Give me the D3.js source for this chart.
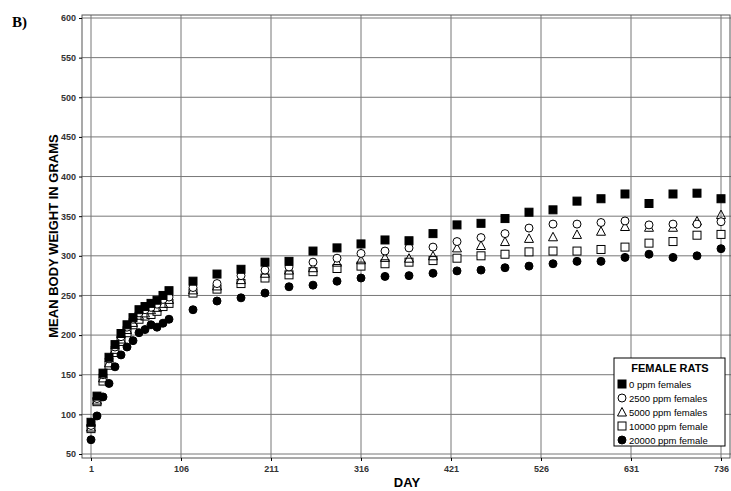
<!DOCTYPE html>
<html><head><meta charset="utf-8">
<script src="https://cdn.jsdelivr.net/npm/d3@7"></script>
<style>body{margin:0;background:#fff}</style></head>
<body><svg id="c" width="731" height="491"></svg>
<script>
const earlyDays=[1,8,15,22,29,36,43,50,57,64,71,78,85,92];
const lateDays=[120,148,176,204,232,260,288,316,344,372,400,428,456,484,512,540,568,596,624,652,680,708,736];
const days=earlyDays.concat(lateDays);
const s0=[90,123,152,172,188,202,213,222,232,236,240,244,250,256, 268,277,283,292,293,306,310,315,320,319,328,339,341,347,355,358,369,372,378,366,378,379,372];
const s2500=[86,120,150,170,185,198,210,220,228,232,235,239,245,248, 260,265,275,282,286,292,297,303,306,310,311,318,323,328,335,340,340,342,344,339,340,340,343];
const s5000=[84,118,146,165,182,195,207,216,225,228,232,235,240,245, 257,262,270,278,282,285,292,295,298,297,300,310,313,318,322,324,327,331,337,336,336,344,352];
const s10000=[82,116,142,162,178,192,203,213,220,224,226,230,236,240, 253,258,265,272,276,280,284,287,290,292,294,297,300,302,305,306,306,308,311,316,318,326,327];
const s20000=[68,98,122,139,160,175,185,193,203,207,213,210,215,220, 232,243,247,253,261,263,268,272,274,275,278,281,282,285,287,290,293,293,298,302,298,300,309];
const xTicks=[1,106,211,316,421,526,631,736];
const yTicks=d3.range(50,601,50);
const seriesNames=["0 ppm females","2500 ppm females","5000 ppm females","10000 ppm female","20000 ppm female"];
const series=[s0,s2500,s5000,s10000,s20000];
const shapes=["sq-f","ci-o","tr-o","sq-o","ci-f"];

const svg=d3.select("#c");
const L=82,R=731,T=15,B=458;
const x=d3.scaleLinear().domain([1,736]).range([91,721]);
const x0=x.invert(L), x1=x.invert(R);
x.domain([x0,x1]).range([L,R]);
const y=d3.scaleLinear().domain([50,600]).range([454,18]);
const fnt="Arial, Liberation Sans, sans-serif";
svg.append("g").selectAll("line").data(yTicks).join("line")
 .attr("x1",L).attr("x2",R).attr("y1",d=>y(d)).attr("y2",d=>y(d)).attr("stroke","#777").attr("stroke-width",1);
svg.append("g").selectAll("line").data(xTicks).join("line")
 .attr("y1",T).attr("y2",B).attr("x1",d=>x(d)).attr("x2",d=>x(d)).attr("stroke","#777").attr("stroke-width",1);
svg.append("rect").attr("x",L).attr("y",T).attr("width",R-L-1).attr("height",B-T).attr("fill","none").attr("stroke","#555");
const ya=svg.append("g").attr("transform",`translate(${L},0)`).call(d3.axisLeft(y).tickValues(yTicks).tickSize(3));
const xa=svg.append("g").attr("transform",`translate(0,${B})`).call(d3.axisBottom(x).tickValues(xTicks).tickSize(3));
[ya,xa].forEach(a=>{a.select(".domain").remove();a.selectAll("text").attr("font-family",fnt).attr("font-size",9).attr("font-weight","bold").attr("fill","#333");});
xa.selectAll("text").attr("dy","0.9em");
function mark(g,shape,cx,cy,s){
  const f=shape.endsWith("-f")?"#000":"#fff";
  if(shape.startsWith("sq")) g.append("rect").attr("x",cx-s/2).attr("y",cy-s/2).attr("width",s).attr("height",s).attr("fill",f).attr("stroke","#000");
  else if(shape.startsWith("ci")) g.append("circle").attr("cx",cx).attr("cy",cy).attr("r",s/2).attr("fill",f).attr("stroke","#000");
  else g.append("path").attr("d",`M${cx},${cy-s/2-0.5}L${cx+s/2+0.5},${cy+s/2}L${cx-s/2-0.5},${cy+s/2}Z`).attr("fill","none").attr("stroke","#000");
}
const pg=svg.append("g");
[3,4,2,1,0].forEach(i=>{
  series[i].forEach((v,j)=>mark(pg,shapes[i],x(days[j]),y(v),8));
});
svg.append("text").attr("x",12).attr("y",27).text("B)").attr("font-family","Liberation Serif, Times New Roman, serif").attr("font-weight","bold").attr("font-size",15);
svg.append("text").attr("transform","translate(58,236) rotate(-90)").attr("text-anchor","middle").text("MEAN BODY WEIGHT IN GRAMS").attr("font-family",fnt).attr("font-weight","bold").attr("font-size",13);
svg.append("text").attr("x",407).attr("y",487).attr("text-anchor","middle").text("DAY").attr("font-family",fnt).attr("font-weight","bold").attr("font-size",13);
const lg=svg.append("g").attr("transform","translate(614,358)");
lg.append("rect").attr("width",111).attr("height",88).attr("fill","#fff").attr("stroke","#000");
lg.append("text").attr("x",56).attr("y",14).attr("text-anchor","middle").text("FEMALE RATS").attr("font-family",fnt).attr("font-weight","bold").attr("font-size",11);
seriesNames.forEach((n,i)=>{
  const yy=26+i*14;
  mark(lg,shapes[i],8,yy,8);
  lg.append("text").attr("x",15).attr("y",yy+3.5).text(n).attr("font-family",fnt).attr("font-size",9.5);
});
</script></body></html>
